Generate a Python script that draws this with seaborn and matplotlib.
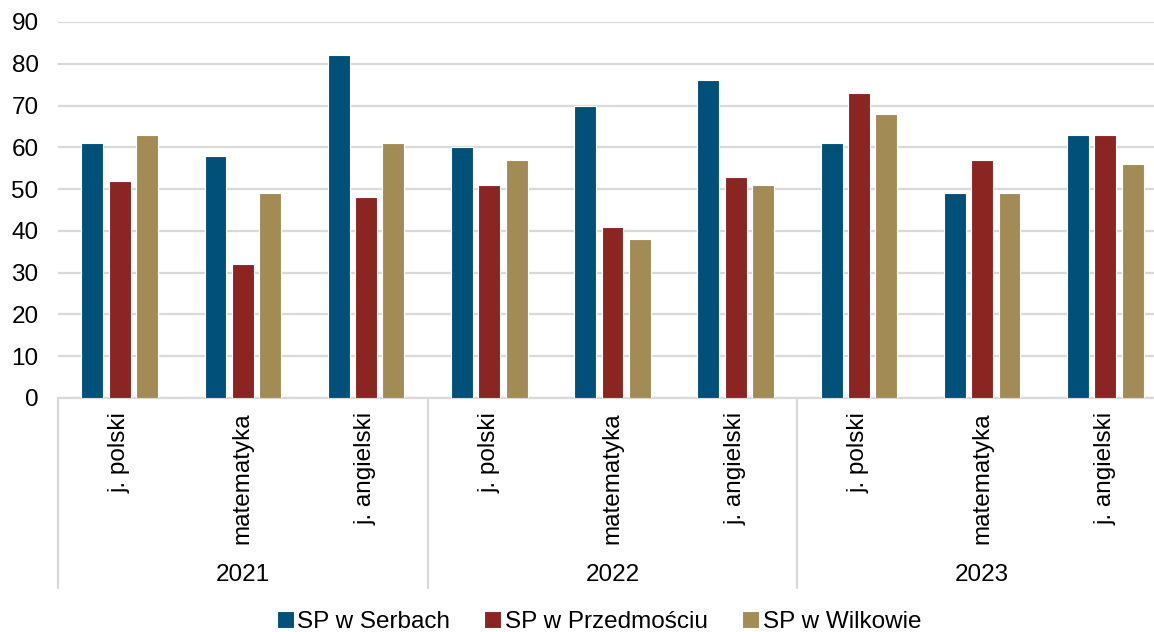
import pandas as pd
import matplotlib.pyplot as plt
import seaborn as sns
from matplotlib.lines import Line2D

# data
years = ['2021', '2022', '2023']
subjects = ['j. polski', 'matematyka', 'j. angielski']
schools = ['SP w Serbach', 'SP w Przedmościu', 'SP w Wilkowie']
serbach = [61, 58, 82, 60, 70, 76, 61, 49, 63]
przedmoscie = [52, 32, 48, 51, 41, 53, 73, 57, 63]
wilkowo = [63, 49, 61, 57, 38, 51, 68, 49, 56]
colors = ['#00507A', '#8B2522', '#A38B56']

cats = [f'{y}|{s}' for y in years for s in subjects]
rows = []
for vals, school in zip([serbach, przedmoscie, wilkowo], schools):
    for c, v in zip(cats, vals):
        rows.append({'cat': c, 'school': school, 'value': v})
df = pd.DataFrame(rows)

sns.set_style('white')
plt.rcParams['font.family'] = ['Liberation Sans', 'DejaVu Sans']
plt.rcParams['text.color'] = 'black'
plt.rcParams['xtick.color'] = 'black'
plt.rcParams['ytick.color'] = 'black'
fs = 17.5

fig = plt.figure(figsize=(11.54, 6.32), dpi=100)
ax = fig.add_axes([58 / 1154, 1 - 398 / 632, 1109 / 1154, 376 / 632])

sns.barplot(data=df, x='cat', y='value', hue='school', order=cats,
            hue_order=schools, palette=colors, width=0.665, gap=0.2,
            edgecolor='white', linewidth=0.8, saturation=1, ax=ax, zorder=3)

ax.set_ylim(0, 90)
ax.set_xlim(-0.5, len(cats) - 0.5)
ax.set_yticks(range(0, 91, 10))
ax.yaxis.grid(True, color='#D9D9D9', linewidth=1.6, zorder=0)
ax.set_axisbelow(True)
for side in ['left', 'right', 'top']:
    ax.spines[side].set_visible(False)
ax.spines['bottom'].set_color('#D9D9D9')
ax.spines['bottom'].set_linewidth(1.6)
ax.tick_params(axis='y', length=0, pad=14, labelsize=fs, labelcolor='black')
ax.set_xticks(range(len(cats)))
ax.set_xticklabels([c.split('|')[1] for c in cats], rotation=90, va='top',
                   ha='center', fontsize=fs, color='black')
ax.tick_params(axis='x', length=0, pad=10)
ax.set_xlabel('')
ax.set_ylabel('')

# year group labels and separators
trans = ax.get_xaxis_transform()
ax_h = 376
for i, y in enumerate(years):
    ax.text(i * 3 + 1, -(575 - 398) / ax_h, y, transform=trans, ha='center',
            va='center', fontsize=fs, color='black')
for i in range(len(years) + 1):
    ax.add_line(Line2D([i * 3 - 0.5, i * 3 - 0.5], [0, -(588 - 398) / ax_h],
                       transform=trans, color='#D9D9D9', linewidth=1.6,
                       clip_on=False))

leg = ax.legend(loc='center', bbox_to_anchor=(599 / 1154, 1 - 622 / 632),
                bbox_transform=fig.transFigure, ncol=3, frameon=False,
                fontsize=fs, handlelength=0.7, handleheight=0.7,
                handletextpad=0.15, columnspacing=1.4, borderaxespad=0)
for t in leg.get_texts():
    t.set_color('black')

fig.savefig('out.png', dpi=100)
